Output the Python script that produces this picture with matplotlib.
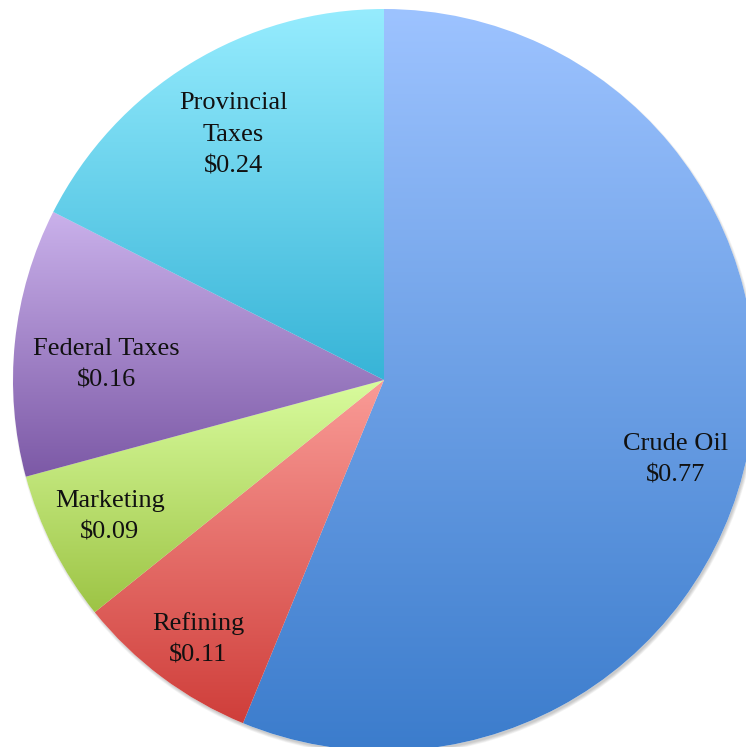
import numpy as np
import matplotlib
matplotlib.use("Agg")
import matplotlib.pyplot as plt
from matplotlib.colors import LinearSegmentedColormap
from matplotlib.patches import Circle

labels = ["Crude Oil", "Refining", "Marketing", "Federal Taxes", "Provincial\nTaxes"]
values = [0.77, 0.11, 0.09, 0.16, 0.24]
top_colors = ["#9DC3FF", "#FA9C97", "#D9FC9E", "#CAB1EB", "#96ECFE"]
bottom_colors = ["#3B7CCC", "#CF3E3A", "#9DC445", "#7C59A6", "#37B4D7"]

# label placement (fraction of radius, angle nudge in degrees)
label_radius = [0.816, 0.859, 0.826, 0.750, 0.776]
label_nudge = [-4.1, 1.2, -0.4, 2.8, 0.0]

W, H, DPI = 746, 747, 100
fig = plt.figure(figsize=(W / DPI, H / DPI), dpi=DPI)
ax = fig.add_axes([0, 0, 1, 1])

R = 371.0
cx, cy = 384.0, 747 - 380.0
px = 1.0 / R

# soft shadow (offset down-right)
for k in range(5):
    ax.add_patch(Circle((1.5 * px, -3.0 * px), 1.0 - 1.0 * px + k * 0.7 * px,
                        facecolor="black", edgecolor="none", alpha=0.045, zorder=0.1))

wedges, texts = ax.pie(
    values,
    labels=[f"{l}\n${v:.2f}" for l, v in zip(labels, values)],
    startangle=90,
    counterclock=False,
    labeldistance=0.8,
    radius=1.0,
    wedgeprops=dict(linewidth=0, edgecolor="none"),
    textprops=dict(family="Liberation Serif", fontsize=19, ha="center",
                   va="center", color="#111111", linespacing=1.58),
)

grad = np.linspace(1, 0, 256).reshape(-1, 1)
for w, c0, c1 in zip(wedges, top_colors, bottom_colors):
    w.set_facecolor("white")
    w.set_zorder(0.4)
    path = w.get_path().transformed(w.get_patch_transform())
    verts = path.vertices
    x0, x1 = verts[:, 0].min(), verts[:, 0].max()
    y0, y1 = verts[:, 1].min(), verts[:, 1].max()
    cmap = LinearSegmentedColormap.from_list("g", [c1, c0])
    im = ax.imshow(grad, cmap=cmap, extent=[x0, x1, y0, y1], aspect="auto",
                   origin="upper", zorder=0.5, interpolation="bilinear")
    im.set_clip_path(w)

for w, t, f, d in zip(wedges, texts, label_radius, label_nudge):
    mid = np.deg2rad((w.theta1 + w.theta2) / 2 + d)
    t.set_position((f * np.cos(mid), f * np.sin(mid)))
    t.set_ha("center")
    t.set_va("center")
    t.set_multialignment("center")
    t.set_zorder(3)

ax.set_xlim(-cx / R, (W - cx) / R)
ax.set_ylim(-cy / R, (H - cy) / R)
ax.set_aspect("equal")
ax.axis("off")
fig.savefig("out.png", dpi=DPI)
